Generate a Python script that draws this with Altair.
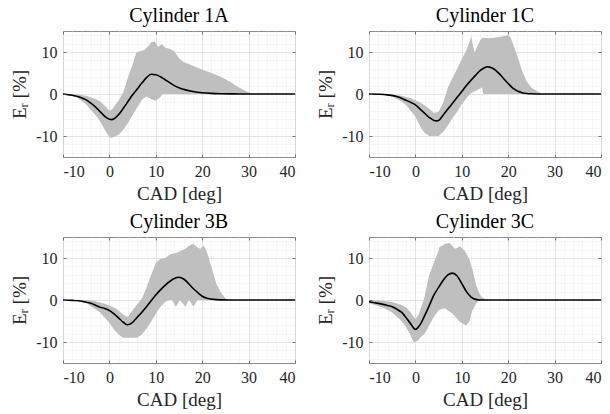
import altair as alt
import pandas as pd

# ---------------- data ----------------
titles = ["Cylinder 1A", "Cylinder 1C", "Cylinder 3B", "Cylinder 3C"]
x_ticks = [-10, 0, 10, 20, 30, 40]
y_ticks = [-10, 0, 10]
x_minor = list(range(-10, 41, 2))
y_minor = list(range(-14, 15, 2))

# Cylinder 1A: envelope of all cycles (grey) and mean (black)
a_band_x = [-10, -7, -5, -3, -2, -1, 0, 0.5, 1, 2, 3, 4, 5, 5.8, 6.5, 7, 7.5, 8, 8.5, 9,
            9.7, 10, 10.5, 10.8, 11.3, 11.5, 12, 13, 14, 15, 16, 18, 20, 21, 22, 24, 26, 28, 30.5, 31, 40]
a_band_lo = [0, -0.8, -2.5, -5, -6.5, -8.5, -10.3, -10.5, -10.2, -9.7, -8.5, -6.9, -5, -3.6, -2.3, -1.4,
             -0.9, -0.6, -0.9, -1.2, -1.5, -1.6, -1.2, -0.9, -0.3, 0, 0, 0, 0, 0, 0, 0, 0, 0, 0, 0, 0, 0, 0, 0, 0]
a_band_hi = [0, -0.1, -0.4, -1.2, -1.8, -2.8, -4, -3.8, -3, -1.5, 0.5, 4, 7, 9.8, 10.2, 10.3, 10.5, 11,
             11.5, 12.3, 12.5, 12.2, 11.2, 11.5, 11.8, 11.7, 11, 10.8, 10.2, 8.5, 7.6, 6.7, 5.8, 5.4, 5,
             4.1, 2.9, 1.5, 0.1, 0, 0]
a_mean_x = [-10, -8, -6, -5, -4, -3, -2, -1, 0, 0.5, 1, 2, 3, 4, 5, 6, 7, 8, 9, 10, 11, 12, 13, 14,
            15, 16, 18, 20, 22, 24, 26, 28, 30, 40]
a_mean_y = [0, -0.3, -0.9, -1.4, -2.2, -3.1, -4.2, -5.3, -6.0, -6.1, -5.9, -4.9, -3.4, -1.8, -0.2, 1.2,
            2.6, 3.9, 4.7, 4.6, 4.1, 3.4, 2.7, 2.0, 1.5, 1.1, 0.6, 0.3, 0.15, 0.07, 0.03, 0.01, 0, 0]

# Cylinder 1C
b_band_x = [-10, -7, -5, -3, -2, -1, 0, 1, 2, 3, 4, 5, 6, 7, 8, 9, 10, 11, 11.7, 12, 12.7, 13, 13.5,
            14, 14.4, 14.6, 16, 18, 20, 20.5, 21.5, 22, 23, 24, 25, 26.5, 27.5, 40]
b_band_lo = [0, -0.2, -0.6, -1.8, -2.6, -4, -5.4, -7.7, -9.3, -10, -10, -10, -9, -7.5, -5.7, -4.2,
             -2.4, -1, -0.1, 0.2, 0.6, 0.7, 1, 1.3, 1.6, 0, 0, 0, 0, 0, 0, 0, 0, 0, 0, 0, 0, 0]
b_band_hi = [0, 0, -0.1, -0.4, -0.7, -1, -1.5, -2, -2.7, -3.5, -4.5, -4.2, -2, 1.5, 3.8, 6, 8.3, 10.5,
             12.5, 13.8, 10, 10.5, 11.8, 12.8, 13.4, 13.4, 13.3, 13.6, 14, 13.5, 10.5, 9, 5.5, 3, 1.5,
             0.5, 0, 0]
b_mean_x = [-10, -8, -6, -4, -2, -1, 0, 1, 2, 3, 4, 4.5, 5, 6, 7, 8, 9, 10, 11, 12, 13, 14, 15, 15.5,
            16, 17, 18, 19, 20, 21, 22, 23, 24, 25, 27, 40]
b_mean_y = [0, -0.05, -0.2, -0.6, -1.5, -2.0, -2.6, -3.6, -4.6, -5.6, -6.3, -6.4, -6.3, -5.0, -3.6,
            -2.2, -0.8, 0.6, 2.0, 3.3, 4.5, 5.6, 6.3, 6.5, 6.4, 5.9, 4.9, 3.7, 2.5, 1.4, 0.7, 0.3, 0.12,
            0.05, 0, 0]

# Cylinder 3B
c_band_x = [-10, -7, -5, -3, -2, -1, 0, 1, 2, 3, 3.5, 4, 5, 6, 7, 8, 9, 10, 11, 12, 12.8, 13, 13.5,
            14.3, 15, 15.2, 16, 16.4, 17, 17.2, 18, 18.1, 19, 19.6, 20.3, 21, 22, 23, 24, 25.3, 40]
c_band_lo = [0, -0.2, -0.8, -2.2, -3, -4.2, -5.5, -7, -8.3, -9, -9, -9, -9, -9, -8.2, -6.8, -5.1, -3.3,
             -1.6, -0.5, 0, 0, 0, -1.6, -0.4, 0, -1, -1.6, -0.3, 0, -1.4, -1.6, 0, 0, 0, 0, 0, 0, 0, 0, 0]
c_band_hi = [0, 0, 0, -0.3, -0.6, -0.9, -1.3, -1.8, -2.5, -3.5, -3.8, -4, -2.5, -1, 0.3, 3, 6, 8.8, 9.8,
             10, 10.6, 10.8, 11, 11.2, 11.5, 11.6, 12, 12.2, 12.8, 12.9, 13.4, 13.4, 12.5, 12.2, 13, 11.5,
             7.8, 4, 1.8, 0, 0]
c_mean_x = [-10, -8, -6, -4, -2, -1, 0, 1, 2, 3, 3.9, 5, 6, 7, 8, 9, 10, 11, 12, 13, 14, 15, 16, 17,
            18, 19, 20, 21, 22, 23, 24, 26, 40]
c_mean_y = [0, -0.1, -0.3, -0.8, -1.7, -2.0, -2.5, -3.3, -4.3, -5.3, -5.9, -5.3, -4.1, -2.9, -1.6, -0.2,
            1.2, 2.4, 3.5, 4.4, 5.1, 5.4, 5.0, 4.0, 2.8, 1.8, 0.9, 0.4, 0.2, 0.08, 0.03, 0, 0]

# Cylinder 3C
d_band_x = [-10, -7, -5, -3, -2, -1, -0.3, 0, 0.7, 1, 1.8, 2, 2.8, 3, 4, 4.3, 5, 5.2, 6, 6.4, 7, 7.4,
            8, 8.5, 9, 9.6, 10, 10.6, 11, 11.7, 12, 12.3, 13, 13.1, 13.7, 14.2, 15, 15.1, 40]
d_band_lo = [-0.8, -1.8, -3, -5, -6.5, -8.5, -10.2, -10, -9.5, -9, -8.2, -8, -6.5, -6, -4, -3.5, -2.5,
             -2.3, -2, -2, -2.5, -2.8, -3.2, -3.8, -4.5, -5.2, -5.5, -5.9, -6, -5, -3.5, -2.5, -1, -0.8,
             0, 0, 0, 0, 0]
d_band_hi = [0, -0.2, -0.5, -1.2, -1.8, -3, -4.2, -4.5, -3.5, -2.5, 0, 1, 5.1, 6, 9, 9.8, 11.8, 12.6,
             13.1, 13.4, 13.5, 13.6, 12.8, 12.2, 12.4, 12.8, 12.4, 11.8, 11, 9.5, 8.3, 7.3, 4, 3.5, 1.8,
             0.8, 0.2, 0, 0]
d_mean_x = [-10, -8, -6, -5, -4, -3, -2, -1, 0, 1, 2, 3, 4, 5, 6, 7, 8, 9, 10, 11, 12, 13, 14, 40]
d_mean_y = [-0.4, -0.8, -1.3, -1.6, -2.2, -2.9, -4.2, -5.7, -7.0, -5.9, -3.7, -1.3, 1.2, 3.0, 4.7, 6.0,
            6.4, 5.7, 3.9, 2.0, 0.7, 0.15, 0, 0]

# ---------------- chart ----------------
W, H = 232, 126
FONT = "Liberation Serif"
INK = "#262626"
BOX = "#8C8C8C"
lab = dict(labelFont=FONT, labelFontSize=16, labelColor=INK)
tit = dict(titleFont=FONT, titleFontSize=19, titleColor=INK, titleFontWeight="normal")


def panel(title, bx, blo, bhi, mx, my):
    band = pd.DataFrame({"x": bx, "lo": blo, "hi": bhi})
    mean = pd.DataFrame({"x": mx, "y": my})
    xs = alt.Scale(domain=[-10, 40], nice=False, zero=False)
    ys = alt.Scale(domain=[-15, 15], nice=False, zero=False)

    # minor dotted grid
    minor = alt.Chart(mean).mark_line(opacity=0).encode(
        x=alt.X("x:Q", scale=xs, axis=alt.Axis(
            orient="bottom", values=x_minor, grid=True, gridColor="#E8E8E8", gridDash=[1, 1],
            gridWidth=0.8, labels=False, ticks=False, domain=False, title=None)),
        y=alt.Y("y:Q", scale=ys, axis=alt.Axis(
            orient="left", values=y_minor, grid=True, gridColor="#E8E8E8", gridDash=[1, 1],
            gridWidth=0.8, labels=False, ticks=False, domain=False, title=None)),
    )

    # grey envelope of all cycles, carries the labelled axes
    area = alt.Chart(band).mark_area(color="#BFBFBF", opacity=1).encode(
        x=alt.X("x:Q", scale=xs, title="CAD [deg]", axis=alt.Axis(
            orient="bottom", values=x_ticks, grid=True, gridColor="#DADADA", gridWidth=0.8,
            ticks=False, tickSize=0, domain=False, labelPadding=6,
            labelExpr="'' + datum.value", titlePadding=5, **lab, **tit)),
        y=alt.Y("hi:Q", scale=ys, title="Eᵣ [%]", axis=alt.Axis(
            orient="left", values=y_ticks, grid=True, gridColor="#DADADA", gridWidth=0.8,
            ticks=False, tickSize=0, domain=False, labelPadding=6,
            labelExpr="'' + datum.value", titlePadding=6, **lab, **tit)),
        y2="lo:Q",
    )

    tick_style = dict(labels=False, grid=False, domain=False, title=None, ticks=True,
                      tickSize=3, tickColor="#555555", tickWidth=0.8, zindex=1)

    line = alt.Chart(mean).mark_line(color="black", strokeWidth=1.6, interpolate="monotone").encode(
        x=alt.X("x:Q", scale=xs, axis=alt.Axis(orient="top", offset=-H, values=x_ticks, **tick_style)),
        y=alt.Y("y:Q", scale=ys, axis=alt.Axis(orient="right", offset=-W, values=y_ticks, **tick_style)),
    )

    ticks2 = alt.Chart(mean).mark_line(opacity=0).encode(
        x=alt.X("x:Q", scale=xs, axis=alt.Axis(orient="bottom", offset=-H, values=x_ticks, **tick_style)),
        y=alt.Y("y:Q", scale=ys, axis=alt.Axis(orient="left", offset=-W, values=y_ticks, **tick_style)),
    )

    return alt.layer(area, minor, line, ticks2).resolve_axis(
        x="independent", y="independent"
    ).properties(
        width=W, height=H,
        title=alt.TitleParams(title, anchor="middle", offset=5, font=FONT, fontSize=20,
                              fontWeight="normal", color="black"),
    )


p1 = panel(titles[0], a_band_x, a_band_lo, a_band_hi, a_mean_x, a_mean_y)
p2 = panel(titles[1], b_band_x, b_band_lo, b_band_hi, b_mean_x, b_mean_y)
p3 = panel(titles[2], c_band_x, c_band_lo, c_band_hi, c_mean_x, c_mean_y)
p4 = panel(titles[3], d_band_x, d_band_lo, d_band_hi, d_mean_x, d_mean_y)

chart = alt.concat(
    p1, p2, p3, p4, columns=2, spacing={"row": 80, "column": 74}, bounds="flush",
).properties(
    autosize=alt.AutoSizeParams(type="pad"),
    padding={"left": 10, "top": 5, "right": 5, "bottom": 5},
    background="white",
).configure(
    font=FONT,
    style={"guide-label": {"font": FONT}, "guide-title": {"font": FONT}},
).configure_view(
    stroke=BOX, strokeWidth=1
).configure_axis(
    labelFont=FONT, titleFont=FONT
)

chart.save("out.html", embed_options={"renderer": "svg", "actions": False})
